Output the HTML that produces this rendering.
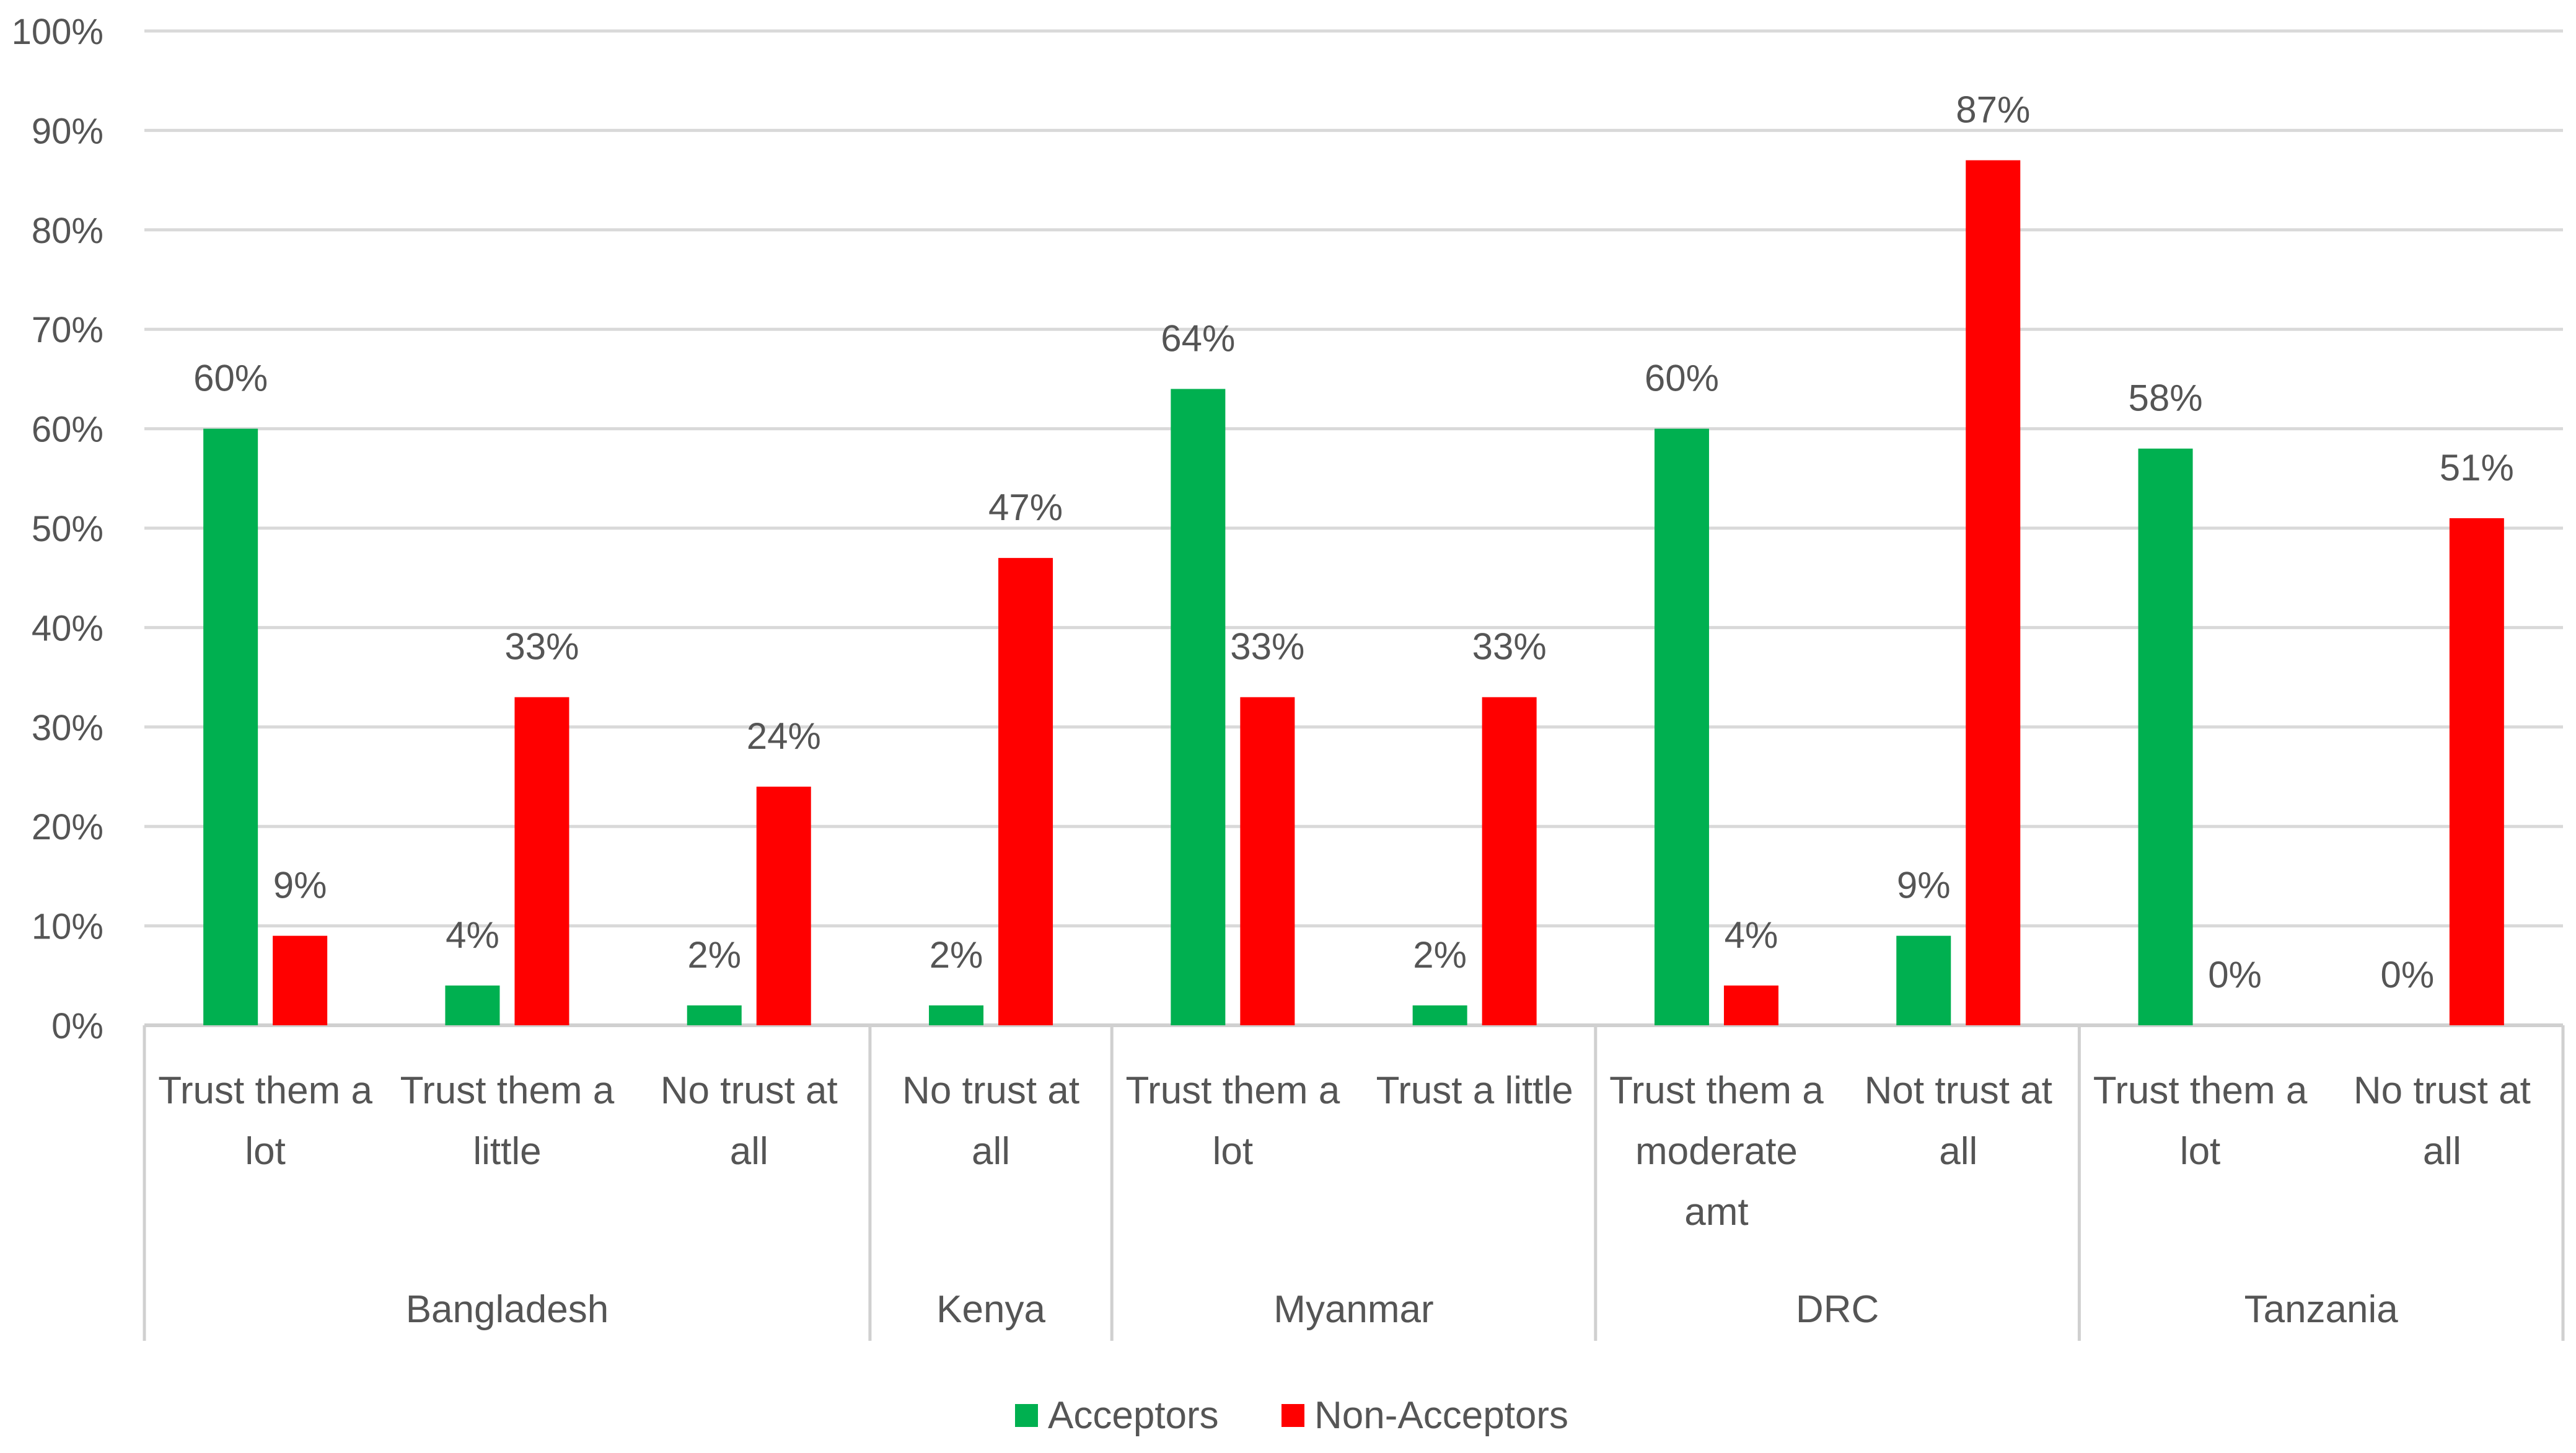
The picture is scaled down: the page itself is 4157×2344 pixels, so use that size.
<!DOCTYPE html>
<html><head><meta charset="utf-8"><style>
html,body{margin:0;padding:0;background:#fff}
svg text{font-family:"Liberation Sans",sans-serif;fill:#555555}
</style></head><body>
<svg id="chart" width="4157" height="2339" viewBox="0 0 4157 2339" xmlns="http://www.w3.org/2000/svg">
<g id="grid"></g>
<g id="yt"></g>
<g id="bars"></g>
<g id="xl"></g>
<g>
<rect x="1638" y="2265" width="37" height="37" fill="#00b050"/>
<text x="1691" y="2304" font-size="62">Acceptors</text>
<rect x="2068" y="2265" width="37" height="37" fill="#ff0000"/>
<text x="2121" y="2304" font-size="62">Non-Acceptors</text>
</g>
</svg>
<script>
const categories=[["Trust them a","lot"],["Trust them a","little"],["No trust at","all"],["No trust at","all"],["Trust them a","lot"],["Trust a little"],["Trust them a","moderate","amt"],["Not trust at","all"],["Trust them a","lot"],["No trust at","all"]];
const acceptors=[60,4,2,2,64,2,60,9,58,0];
const nonAcceptors=[9,33,24,47,33,33,4,87,0,51];
const groups=["Bangladesh","Kenya","Myanmar","DRC","Tanzania"];
const groupSizes=[3,1,2,2,2];
const yTicks=[0,10,20,30,40,50,60,70,80,90,100];
const NS="http://www.w3.org/2000/svg";
const X0=233,X1=4136,Y0=1654,Y100=50;
const slot=(X1-X0)/categories.length;
const y=v=>Y0-(v/100)*(Y0-Y100);
const xc=i=>X0+slot*(i+0.5);
function mk(tag,attrs,parent,txt){const e=document.createElementNS(NS,tag);for(const k in attrs)e.setAttribute(k,attrs[k]);if(txt!==undefined)e.textContent=txt;parent.appendChild(e);return e;}
const grid=document.getElementById('grid'),yt=document.getElementById('yt'),bars=document.getElementById('bars'),xl=document.getElementById('xl');
yTicks.forEach(t=>{
 const l=mk('line',{x1:X0,x2:X1,y1:y(t),y2:y(t),stroke:t===0?'#d0d0d0':'#d9d9d9','stroke-width':t===0?6:5},grid);
 
 
 const tx=mk('text',{x:167,y:y(t)+21,'text-anchor':'end','font-size':58},yt,t+'%');
 
 
});
const BW=88;
categories.forEach((c,i)=>{
 const gx=xc(i)-56, rx=xc(i)+56;
 const a=acceptors[i], n=nonAcceptors[i];
 const g=mk('rect',{x:gx-BW/2,y:y(a),width:BW,height:Y0-y(a),fill:'#00b050'},bars);
 
 
 const r=mk('rect',{x:rx-BW/2,y:y(n),width:BW,height:Y0-y(n),fill:'#ff0000'},bars);
 
 
 const la=mk('text',{x:gx,y:y(a)-61,'text-anchor':'middle','font-size':60},bars,a+'%');
 
 
 const ln=mk('text',{x:rx,y:y(n)-61,'text-anchor':'middle','font-size':60},bars,n+'%');
 
 
 c.forEach((line,k)=>{
  const t=mk('text',{x:xc(i),y:1780+k*98,'text-anchor':'middle','font-size':62},xl,line);
  
  
 });
});
let idx=0;
const sep=v=>{const l=mk('line',{x1:X0+slot*v,x2:X0+slot*v,y1:Y0,y2:2163,stroke:'#d0d0d0','stroke-width':5},xl);
 
 };
sep(0);
groups.forEach((gname,gi)=>{
 const s=idx,e=idx+groupSizes[gi];
 const t=mk('text',{x:X0+slot*(s+e)/2,y:2133,'text-anchor':'middle','font-size':62},xl,gname);
 
 
 sep(e);idx=e;
});
</script>
</body></html>
